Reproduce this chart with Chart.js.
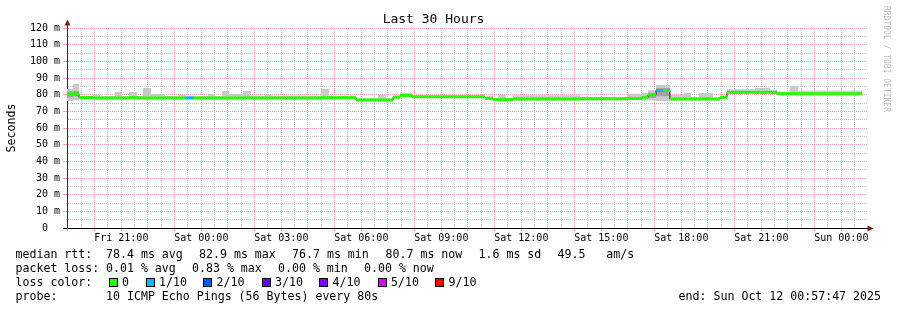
<!DOCTYPE html>
<html><head><meta charset="utf-8">
<script src="https://cdn.jsdelivr.net/npm/chart.js@4/dist/chart.umd.min.js"></script>
<style>html,body{margin:0;padding:0;background:#fff;}#wrap{width:897px;height:310px;}</style>
</head><body><div id="wrap"><canvas id="c" width="897" height="310"></canvas></div>
<script>
// ---------- data (hours since Fri 18:57:47) ----------
const runStartHours = [0,0.225,0.45,0.975,1.24,1.8,2.06,2.325,2.625,2.85,3.15,3.675,4.16,4.46,4.76,5.29,5.55,5.81,6.075,6.6,6.9,7.425,7.69,9.525,9.825,10.84,11.66,11.96,12.225,12.49,12.94,15.675,15.975,16.16,16.46,16.725,19.24,21.0,21.56,21.79,22.09,22.35,22.61,23.14,23.4,23.7,24.23,24.49,24.75,25.8,26.36,26.625,27.11,27.41];
const runEndHour = 29.81;
const medianRtt = [80.5,80.5,78.3,78.0,78.0,78.0,78.0,78.3,78.0,78.0,78.0,78.0,78.0,78.0,78.0,78.0,78.0,78.0,78.0,78.0,78.0,78.0,78.0,78.2,78.2,76.8,76.8,76.8,78.5,79.5,78.7,77.8,77.0,77.0,77.0,77.4,77.5,77.7,78.4,80.0,82.5,82.5,77.4,77.4,77.4,77.4,77.4,78.4,81.4,81.4,81.4,80.6,80.6,80.6];
const lossTenths = [0,0,0,0,0,0,0,0,0,0,0,0,0,1,0,0,0,0,0,0,0,0,0,0,0,0,0,0,0,0,0,0,0,0,0,0,0,0,0,0,1,0,0,0,0,0,0,0,0,0,0,0,0,0];
const smokeMin = [76.2,76.5,77.5,77.2,77.2,77.2,77.2,77.5,77.2,77.2,77.2,77.2,77.2,77.2,77.2,77.2,77.2,77.2,77.2,77.2,77.2,77.2,77.2,77.4,77.4,76.0,76.0,76.0,77.7,78.7,77.9,77.0,76.2,76.2,76.2,76.6,76.7,76.9,76.5,76.5,76.0,76.0,76.6,76.6,76.6,76.6,76.6,77.6,80.6,80.6,80.6,79.8,79.8,79.8];
const smokeMax = [83.4,86.4,79.2,80.4,79.2,81.6,79.2,81.6,79.2,84.0,80.4,79.2,79.8,79.5,79.2,80.4,79.2,82.2,80.4,82.2,79.5,80.0,79.5,83.6,79.5,77.8,80.0,77.8,79.5,81.2,79.6,79.0,78.0,79.8,78.0,79.6,78.8,80.5,81.0,82.8,85.8,85.8,79.8,81.2,78.5,81.0,78.5,79.5,83.2,84.2,83.0,81.8,85.4,82.4];
const smokeCoreMin = [78.5,79.0,78.3,78.0,78.0,78.0,78.0,78.3,78.0,78.0,78.0,78.0,78.0,78.0,78.0,78.0,78.0,78.0,78.0,78.0,78.0,78.0,78.0,78.2,78.2,76.8,76.8,76.8,78.5,79.5,78.7,77.8,77.0,77.0,77.0,77.4,77.5,77.7,78.4,78.0,79.0,79.0,77.4,77.4,77.4,77.4,77.4,78.4,81.4,81.4,81.4,80.6,80.6,80.6];
const smokeCoreMax = [82.0,82.0,78.3,78.0,78.0,78.0,78.0,78.3,78.0,78.0,78.0,78.0,78.0,78.0,78.0,78.0,78.0,78.0,78.0,78.0,78.0,78.0,78.0,78.2,78.2,76.8,76.8,76.8,78.5,79.5,78.7,77.8,77.0,77.0,77.0,77.4,77.5,77.7,78.4,81.0,84.0,84.0,77.4,77.4,77.4,77.4,77.4,78.4,81.4,81.4,81.4,80.6,80.6,80.6];
const xTickLabels = ['Fri 21:00','Sat 00:00','Sat 03:00','Sat 06:00','Sat 09:00','Sat 12:00','Sat 15:00','Sat 18:00','Sat 21:00','Sun 00:00'];
const firstLabelHour = 2.036944;   // Fri 21:00 - Fri 18:57:47
const firstGridHour = 0.036944;    // Fri 19:00
const lossLegendLabels = ['0','1/10','2/10','3/10','4/10','5/10','9/10'];
const lossLegendTenths = [0,1,2,3,4,5,9];
const lossPalette = {0:'#26ff00',1:'#00b8ff',2:'#0059ff',3:'#5e00ff',4:'#7e00ff',5:'#dd00ff',9:'#ff0000'};
const statsMedian = ['78.4 ms avg','82.9 ms max','76.7 ms min','80.7 ms now','1.6 ms sd','49.5   am/s'];
const statsLoss = ['0.01 % avg','0.83 % max','0.00 % min','0.00 % now'];
const probeText = '10 ICMP Echo Pings (56 Bytes) every 80s';
const endText = 'end: Sun Oct 12 00:57:47 2025';

// ---------- build ----------
const MONO = '"DejaVu Sans Mono", "Liberation Mono", monospace';
function stepSeries(arr){
  const pts = runStartHours.map((t,i)=>({x:t,y:arr[i]}));
  pts.push({x:runEndHour,y:arr[arr.length-1]});
  return pts;
}
const medianRuns = [];
runStartHours.forEach((t,i)=>{
  const e = i+1<runStartHours.length ? runStartHours[i+1] : runEndHour;
  medianRuns.push({x:t,y:medianRtt[i]},{x:e,y:medianRtt[i]},{x:e,y:null});
});
const xGrid = []; for(let h=firstGridHour; h<=30; h+=0.5) xGrid.push(+h.toFixed(6));
const yGrid = []; for(let v=0; v<=120; v+=5) yGrid.push(v);
const isHour = v => Math.round((v-firstGridHour)/0.5)%2===0;
const MAJ = '#f2a6a6', MIN = '#c9c9c9';

const base = {pointRadius:0, borderWidth:0, stepped:'before', tension:0};
const datasets = [
  Object.assign({}, base, {label:'median', data:medianRuns, stepped:false, borderWidth:3, borderCapStyle:'butt', spanGaps:false, order:0,
    segment:{borderColor: c => lossPalette[lossTenths[Math.floor(c.p0DataIndex/3)]]}, borderColor:'#26ff00', fill:false}),
  Object.assign({}, base, {label:'medline', data:stepSeries(medianRtt), borderWidth:1, borderColor:'#1a1a1a', order:1, fill:false}),
  Object.assign({}, base, {label:'coreLo', data:stepSeries(smokeCoreMin), order:2, fill:false}),
  Object.assign({}, base, {label:'coreHi', data:stepSeries(smokeCoreMax), order:3, fill:2, backgroundColor:'#a2a2a2'}),
  Object.assign({}, base, {label:'smokeLo', data:stepSeries(smokeMin), order:4, fill:false}),
  Object.assign({}, base, {label:'smokeHi', data:stepSeries(smokeMax), order:5, fill:4, backgroundColor:'#c9c9c9'}),
];

const decor = {
  id:'decor',
  afterDraw(chart){
    const ctx = chart.ctx, a = chart.chartArea;
    ctx.save();
    // axis extensions and arrows
    ctx.strokeStyle = '#3a2a2a'; ctx.lineWidth = 1;
    ctx.beginPath(); ctx.moveTo(67.5, a.top); ctx.lineTo(67.5, 24); ctx.stroke();
    ctx.strokeStyle = '#000';
    ctx.beginPath(); ctx.moveTo(a.right, 228.5); ctx.lineTo(869, 228.5); ctx.stroke();
    ctx.fillStyle = '#7f1f1f';
    ctx.beginPath(); ctx.moveTo(67.5,19.5); ctx.lineTo(70.5,25.5); ctx.lineTo(64.5,25.5); ctx.closePath(); ctx.fill();
    ctx.beginPath(); ctx.moveTo(873.5,228.5); ctx.lineTo(867.5,225.5); ctx.lineTo(867.5,231.5); ctx.closePath(); ctx.fill();
    // y title
    ctx.fillStyle = '#000';
    ctx.font = '11.6px ' + MONO;
    ctx.save(); ctx.translate(14.5, 128); ctx.rotate(-Math.PI/2); ctx.textAlign='center'; ctx.textBaseline='alphabetic'; ctx.fillText('Seconds',0,0); ctx.restore();
    // watermark
    ctx.save(); ctx.fillStyle='#bdbdbd'; ctx.font = '8px ' + MONO; ctx.translate(883.5, 59); ctx.rotate(Math.PI/2); ctx.textAlign='center'; ctx.textBaseline='alphabetic'; ctx.fillText('RRDTOOL / TOBI OETIKER',0,0); ctx.restore();
    // legend rows
    ctx.textAlign='left'; ctx.textBaseline='alphabetic';
    const rows = [257.5, 271.5, 285.5, 299.5];
    ctx.fillText('median rtt:', 15.5, rows[0]);
    [106,199,292,385.5,478.5,557.5].forEach((x,i)=>ctx.fillText(statsMedian[i], x, rows[0]));
    ctx.fillText('packet loss:', 15.5, rows[1]);
    [106,192,278,364].forEach((x,i)=>ctx.fillText(statsLoss[i], x, rows[1]));
    ctx.fillText('loss color:', 15.5, rows[2]);
    [108.5,145.5,203,261.5,319,377.5,435].forEach((x,i)=>{
      ctx.fillStyle='#000'; ctx.fillRect(Math.round(x), 278, 9, 9);
      ctx.fillStyle=lossPalette[lossLegendTenths[i]]; ctx.fillRect(Math.round(x)+1, 279, 7, 7);
      ctx.fillStyle='#000'; ctx.fillText(lossLegendLabels[i], x+13.5, rows[2]);
    });
    ctx.fillText('probe:', 15.5, rows[3]);
    ctx.fillText(probeText, 106, rows[3]);
    ctx.textAlign='right'; ctx.fillText(endText, 881, rows[3]);
    ctx.restore();
  }
};

new Chart(document.getElementById('c'), {
  type:'line',
  data:{datasets},
  plugins:[decor],
  options:{
    responsive:false, animation:false, devicePixelRatio:1,
    layout:{padding:{left:0,right:30,top:0,bottom:62}},
    plugins:{
      legend:{display:false}, tooltip:{enabled:false},
      title:{display:true, text:'Last 30 Hours', color:'#000', font:{family:MONO,size:13,weight:'normal'}, padding:{top:12,bottom:0.4}},
    },
    scales:{
      x:{type:'linear', min:0, max:30,
        afterBuildTicks: s => { s.ticks = xGrid.map(v=>({value:v})); },
        afterFit: s => { s.height = 20; },
        ticks:{autoSkip:false, maxRotation:0, padding:1, color:'#000', font:{family:MONO,size:10},
          callback: v => { const i = xTickLabels.findIndex((_,k)=>Math.abs(firstLabelHour+3*k - v)<1e-4); return i>=0 ? xTickLabels[i] : ''; }},
        grid:{color: c => isHour(c.tick.value) ? MAJ : MIN, tickColor: c => isHour(c.tick.value) ? MAJ : 'rgba(0,0,0,0)', tickLength:3, lineWidth:1},
        border:{display:true, color:'#000', width:1, dash:[1,1]}
      },
      y:{min:0, max:120,
        afterBuildTicks: s => { s.ticks = yGrid.map(v=>({value:v})); },
        afterFit: s => { s.width = 67; },
        ticks:{autoSkip:false, padding:3, color:'#000', font:{family:MONO,size:10},
          callback: v => v===0 ? '0  ' : (v%10===0 ? v+' m' : '')},
        grid:{color: c => c.tick.value===0 ? 'rgba(0,0,0,0)' : (c.tick.value%10===0 ? MAJ : MIN),
              tickColor: c => c.tick.value===0 ? '#000' : (c.tick.value%10===0 ? MAJ : 'rgba(0,0,0,0)'), tickLength:4, lineWidth:1},
        border:{display:true, color:'#3a2a2a', width:1, dash:[1,1]}
      }
    }
  }
});
</script></body></html>
